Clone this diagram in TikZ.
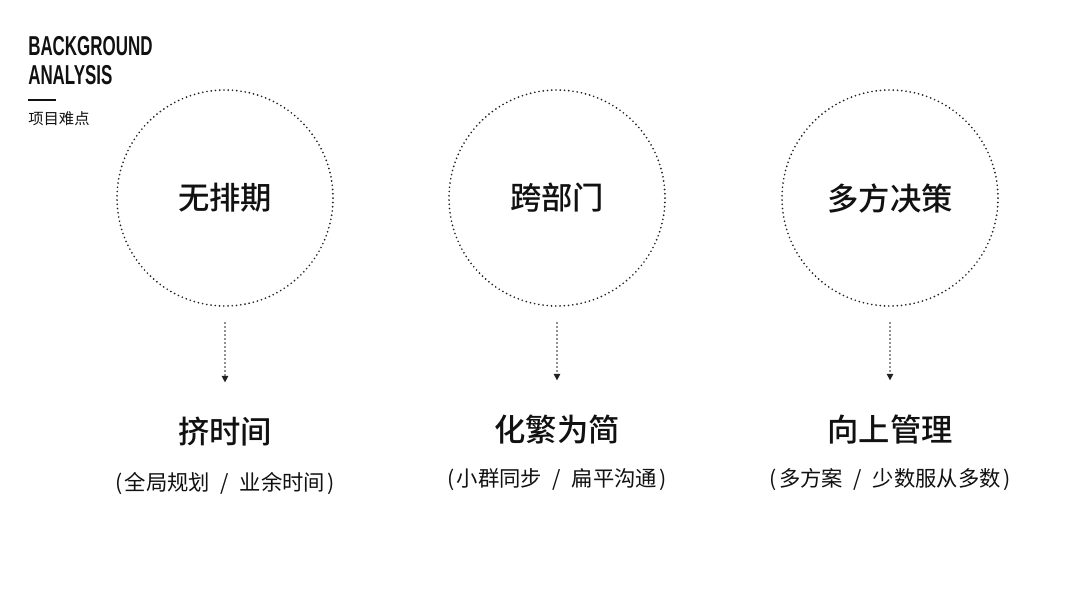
\documentclass[tikz,border=0pt]{standalone}
\usepackage{fontspec}
\setmainfont{Liberation Sans}
\newfontfamily\cjk{Noto Sans CJK SC}
\newfontfamily\cjkmid{Noto Sans CJK SC Medium}
\usetikzlibrary{arrows.meta,positioning}
\definecolor{BGInk}{HTML}{111111}
\definecolor{BGDot}{HTML}{222222}
\newcommand{\sep}{\hspace{0.5em}/\hspace{0.5em}}
\newcommand{\paren}[1]{(\hspace{0.12em}#1\hspace{0.12em})}
\tikzset{
  ring/.style={circle,draw=BGDot,line width=1.4pt,line cap=round,
               dash pattern=on 0pt off 3.2pt,minimum size=162pt,inner sep=0pt,
               text=BGInk,font=\cjkmid\fontsize{23.5}{27}\selectfont},
  flowdot/.style={-{Triangle[length=5pt,width=4.8pt]},BGDot,line width=1.3pt,
                  line cap=round,dash pattern=on 0pt off 3pt},
  headline/.style={text=BGInk,font=\cjkmid\fontsize{23.5}{27}\selectfont,inner sep=0pt},
  subline/.style={text=BGInk,font=\cjk\fontsize{16}{19}\selectfont,inner sep=0pt},
  brand/.style={text=BGInk,font=\bfseries\fontsize{20.5}{22}\selectfont,inner sep=0pt,anchor=base west},
  tag/.style={text=BGInk,font=\cjk\fontsize{11.5}{13}\selectfont,inner sep=0pt,anchor=west},
}
\begin{document}
\begin{tikzpicture}[x=0.75pt,y=-0.75pt]
  \useasboundingbox[fill=white] (0,0) rectangle (1080,608);

  % heading in the corner
  \node[brand] (bg1) at (28,55) {\scalebox{0.62}[1]{BACKGROUND}};
  \node[brand] (bg2) at (28,84) {\scalebox{0.62}[1]{ANALYSIS}};
  \draw[BGInk,line width=2.2pt] (28,100) -- (56,100);
  \node[tag] (bg3) at (28,119) {项目难点};

  % three difficulties
  \node[ring] (c1) at (225,198) {无排期};
  \node[ring] (c2) at (557,198) {跨部门};
  \node[ring] (c3) at (890,198) {多方决策};

  \node[headline] (t1) at (225,432) {挤时间};
  \node[headline] (t2) at (557,430) {化繁为简};
  \node[headline] (t3) at (890,430) {向上管理};

  \node[subline] (s1) at (225,483) {\paren{全局规划\sep 业余时间}};
  \node[subline] (s2) at (557,480) {\paren{小群同步\sep 扁平沟通}};
  \node[subline] (s3) at (890,480) {\paren{多方案\sep 少数服从多数}};

  \draw[flowdot,shorten <=12pt,shorten >=26pt] (c1) -- (t1);
  \draw[flowdot,shorten <=12pt,shorten >=26pt] (c2) -- (t2);
  \draw[flowdot,shorten <=12pt,shorten >=26pt] (c3) -- (t3);
\end{tikzpicture}
\end{document}
